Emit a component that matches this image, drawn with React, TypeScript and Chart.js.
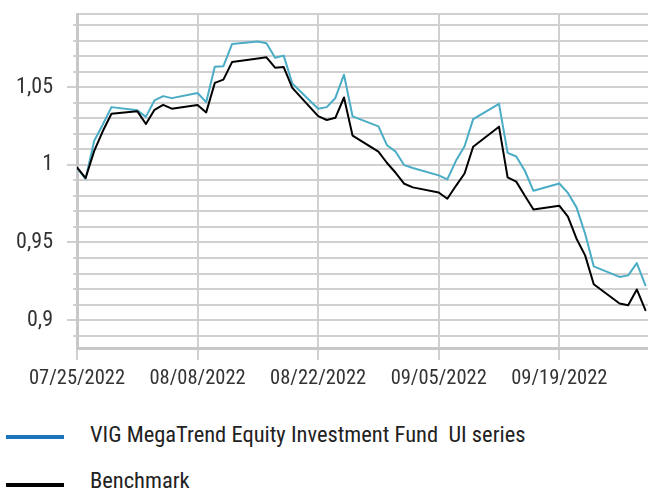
import React, { useEffect, useRef } from 'react';
import { Chart, registerables } from 'chart.js';

Chart.register(...registerables);

// Trading days (2022, MM/DD)
const dates = [
  '07/25', '07/26', '07/27', '07/28', '07/29',
  '08/01', '08/02', '08/03', '08/04', '08/05',
  '08/08', '08/09', '08/10', '08/11', '08/12',
  '08/15', '08/16', '08/17', '08/18', '08/19',
  '08/22', '08/23', '08/24', '08/25', '08/26',
  '08/29', '08/30', '08/31', '09/01', '09/02',
  '09/05', '09/06', '09/07', '09/08', '09/09',
  '09/12', '09/13', '09/14', '09/15', '09/16',
  '09/19', '09/20', '09/21', '09/22', '09/23',
  '09/26', '09/27', '09/28', '09/29',
];

const fundValues = [
  0.998, 0.991, 1.0155, 1.026, 1.0372,
  1.0352, 1.0309, 1.0416, 1.0443, 1.043,
  1.0463, 1.0404, 1.0632, 1.0636, 1.0778,
  1.0795, 1.0784, 1.069, 1.0704, 1.0524,
  1.0362, 1.0372, 1.0431, 1.0581, 1.0312,
  1.0248, 1.0126, 1.0085, 0.9998, 0.998,
  0.9932, 0.9906, 1.0026, 1.012, 1.0295,
  1.0393, 1.0077, 1.0054, 0.9962, 0.9833,
  0.988, 0.9819, 0.9726, 0.9556, 0.9346,
  0.9278, 0.9288, 0.9367, 0.9224,
];

const benchmarkValues = [
  0.9983, 0.9915, 1.009, 1.0218, 1.0329,
  1.0346, 1.0263, 1.0355, 1.0387, 1.0362,
  1.0385, 1.0338, 1.0528, 1.0549, 1.0662,
  1.0685, 1.0693, 1.0626, 1.063, 1.0496,
  1.0314, 1.0289, 1.0303, 1.0434, 1.0188,
  1.0085, 1.0012, 0.9949, 0.9878, 0.9855,
  0.9822, 0.9782, 0.9865, 0.9944, 1.0117,
  1.0246, 0.9919, 0.9892, 0.9801, 0.9712,
  0.9737, 0.9667, 0.9524, 0.9417, 0.9231,
  0.9107, 0.9096, 0.9197, 0.9064,
];

const xTickLabels = ['07/25/2022', '08/08/2022', '08/22/2022', '09/05/2022', '09/19/2022'];
const yGridValues = [0.89, 0.9, 0.91, 0.92, 0.93, 0.94, 0.95, 0.96, 0.97, 0.98, 0.99, 1, 1.01, 1.02, 1.03, 1.04, 1.05, 1.06, 1.07, 1.08, 1.09];
const yLabelValues = [0.9, 0.95, 1, 1.05];

const seriesNames = ['VIG MegaTrend Equity Investment Fund  UI series', 'Benchmark'];
const lineColors = ['#4BACC6', '#000000'];
const legendColors = ['#1B75BC', '#000000'];

const Y_MIN = 0.882;
const Y_MAX = 1.0972;
const X_MAX_DAYS = 66.3;

const FONT = "'Roboto Condensed', 'Liberation Sans Narrow', sans-serif";
const GRID = '#d0d0d0';
const TEXT = '#333333';

const START = Date.UTC(2022, 6, 25);
const dayOf = (s: string) => {
  const [m, d] = s.split('/').map(Number);
  return Math.round((Date.UTC(2022, m - 1, d) - START) / 86400000);
};

const isLabeled = (v: number) => yLabelValues.some((l) => Math.abs(l - v) < 1e-6);
const fmt = (v: number) => String(v).replace('.', ',');

export default function App() {
  const ref = useRef<HTMLCanvasElement | null>(null);

  useEffect(() => {
    if (!ref.current) return;
    const days = dates.map(dayOf);
    const tickDays = xTickLabels.map((s) => dayOf(s.slice(0, 5)));

    const shortTicks = {
      id: 'shortTicks',
      afterDraw(chart: any) {
        const y = chart.scales.y;
        const ctx = chart.ctx;
        ctx.save();
        ctx.strokeStyle = GRID;
        ctx.lineWidth = 2;
        for (const v of yGridValues) {
          if (isLabeled(v)) continue;
          const py = Math.round(y.getPixelForValue(v));
          ctx.beginPath();
          ctx.moveTo(y.right - 4, py);
          ctx.lineTo(y.right, py);
          ctx.stroke();
        }
        ctx.restore();
      },
    };

    const chart = new Chart(ref.current, {
      type: 'line',
      data: {
        datasets: [
          {
            label: seriesNames[0],
            data: days.map((d, i) => ({ x: d, y: fundValues[i] })),
            borderColor: lineColors[0],
            backgroundColor: legendColors[0],
            borderWidth: 2,
            pointRadius: 0,
            tension: 0,
            order: 2,
          },
          {
            label: seriesNames[1],
            data: days.map((d, i) => ({ x: d, y: benchmarkValues[i] })),
            borderColor: lineColors[1],
            backgroundColor: legendColors[1],
            borderWidth: 2,
            pointRadius: 0,
            tension: 0,
            order: 1,
          },
        ],
      },
      options: {
        animation: false,
        responsive: false,
        devicePixelRatio: 1,
        layout: { padding: { top: 13, right: 0, left: 0, bottom: 0 } },
        plugins: { legend: { display: false }, tooltip: { enabled: false } },
        elements: { line: { borderJoinStyle: 'round', borderCapStyle: 'round' } },
        scales: {
          x: {
            type: 'linear',
            min: 0,
            max: X_MAX_DAYS,
            afterBuildTicks: (scale: any) => {
              scale.ticks = tickDays.map((v) => ({ value: v }));
            },
            afterFit: (scale: any) => {
              scale.height = 52;
            },
            ticks: {
              autoSkip: false,
              maxRotation: 0,
              padding: 7,
              color: TEXT,
              font: { family: FONT, size: 20.5 },
              callback: (v: any) => {
                const i = tickDays.indexOf(Math.round(Number(v)));
                return i >= 0 ? xTickLabels[i] : '';
              },
            },
            grid: { color: GRID, lineWidth: 2, tickLength: 12, tickColor: GRID, tickWidth: 2 },
            border: { display: true, color: '#c8c8c8', width: 3 },
          },
          y: {
            type: 'linear',
            min: Y_MIN,
            max: Y_MAX,
            afterBuildTicks: (scale: any) => {
              scale.ticks = [...yGridValues.map((v) => ({ value: v })), { value: Y_MAX }];
            },
            afterFit: (scale: any) => {
              scale.width = 77;
            },
            ticks: {
              autoSkip: false,
              padding: 14,
              color: TEXT,
              font: { family: FONT, size: 22 },
              callback: (v: any) => (isLabeled(Number(v)) ? fmt(Number(v)) : []),
            },
            grid: {
              color: GRID,
              lineWidth: 2,
              tickLength: 10,
              tickWidth: 2,
              tickColor: (ctx: any) => (ctx.tick && isLabeled(ctx.tick.value) ? GRID : 'rgba(0,0,0,0)'),
            },
            border: { display: true, color: '#c8c8c8', width: 3 },
          },
        },
      },
      plugins: [shortTicks],
    });

    return () => chart.destroy();
  }, []);

  const swatchTops = [435, 483];
  const textTops = [420, 466];

  return (
    <div style={{ position: 'fixed', left: 0, top: 0, width: 648, height: 489, background: '#fff', overflow: 'hidden' }}>
      <canvas ref={ref} width={648} height={400} style={{ position: 'absolute', left: 0, top: 0, width: 648, height: 400 }} />
      {seriesNames.map((name, i) => (
        <div key={name}>
          <div
            style={{
              position: 'absolute',
              left: 6,
              top: swatchTops[i],
              width: 58,
              height: 4,
              background: legendColors[i],
            }}
          />
          <span
            style={{
              position: 'absolute',
              left: 90,
              top: textTops[i],
              fontFamily: FONT,
              fontSize: 22.5,
              lineHeight: '28px',
              color: '#222',
              whiteSpace: 'pre',
            }}
          >
            {name}
          </span>
        </div>
      ))}
    </div>
  );
}
